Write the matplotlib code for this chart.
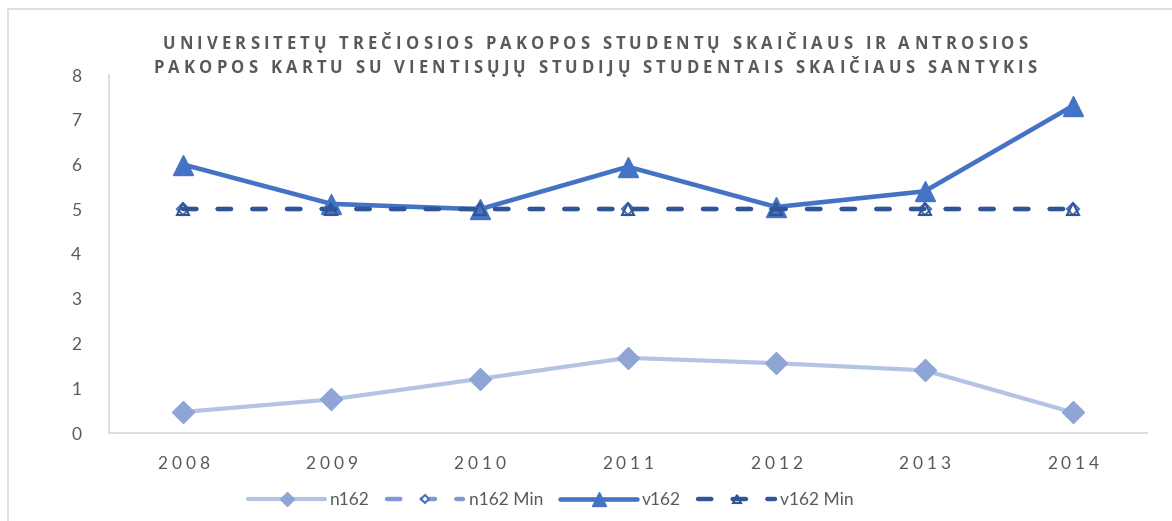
import matplotlib
matplotlib.use("Agg")
import matplotlib.pyplot as plt
import matplotlib.transforms as mtransforms
from matplotlib.font_manager import FontProperties
from matplotlib.lines import Line2D

years = ["2008", "2009", "2010", "2011", "2012", "2013", "2014"]
n162 = [0.47, 0.75, 1.21, 1.68, 1.56, 1.40, 0.46]
n162_min = [5, 5, 5, 5, 5, 5, 5]
v162 = [6.00, 5.12, 5.00, 5.95, 5.05, 5.40, 7.31]
v162_min = [5, 5, 5, 5, 5, 5, 5]

title_lines = ["UNIVERSITETŲ TREČIOSIOS PAKOPOS STUDENTŲ SKAIČIAUS IR ANTROSIOS",
               "PAKOPOS KARTU SU VIENTISŲJŲ STUDIJŲ STUDENTAIS SKAIČIAUS SANTYKIS"]

GRAY = "#595959"
FONT = ["Lato", "DejaVu Sans"]
plt.rcParams["font.family"] = FONT

fig = plt.figure(figsize=(11.72, 5.21), dpi=100)
ax = fig.add_axes([109 / 1172, 1 - 433 / 521, 1038 / 1172, 358 / 521])

x = range(len(years))
ax.plot(x, n162, color="#B4C2E5", lw=3.0, marker="D", ms=11,
        mfc="#8FA5D6", mec="#8FA5D6", label="n162", solid_capstyle="round", zorder=3)
ax.plot(x, n162_min, color="#7F99D4", lw=3.2, ls=(0, (3.0, 4.8)), dash_capstyle="round",
        marker="D", ms=6.5, mfc="white", mec="#4A6FBF", mew=1.5, label="n162 Min", zorder=3)
ax.plot(x, v162, color="#4472C4", lw=3.3, marker="^", ms=15,
        mfc="#4472C4", mec="#4472C4", label="v162", solid_capstyle="round", zorder=4)
ax.plot(x, v162_min, color="#2F5597", lw=3.2, ls=(0, (3.0, 4.8)), dash_capstyle="round",
        marker="^", ms=9, mfc="none", mec="#2F5597", mew=1.5, label="v162 Min", zorder=5)

ax.set_xlim(-0.5, len(years) - 0.5)
ax.set_ylim(0, 8)
ax.set_yticks(range(0, 9))
ax.set_xticks(list(x))
ax.set_xticklabels([])
ax.tick_params(axis="both", length=0, labelsize=12.5, labelcolor=GRAY)
ax.tick_params(axis="y", pad=20)
for side in ("top", "right"):
    ax.spines[side].set_visible(False)
for side in ("left", "bottom"):
    ax.spines[side].set_color("#D9D9D9")
    ax.spines[side].set_linewidth(1.3)

renderer = fig.canvas.get_renderer()


def char_width(ch, prop):
    # advance width of one character in pixels
    w2 = renderer.get_text_width_height_descent("x" + ch + "x", prop, ismath=False)[0]
    w1 = renderer.get_text_width_height_descent("xx", prop, ismath=False)[0]
    return w2 - w1


def spaced_text(xpos, ypos, s, track, transform, prop, color):
    widths = [char_width(c, prop) for c in s]
    total = sum(widths) + track * (len(s) - 1)
    pos = -total / 2
    for c, w in zip(s, widths):
        tr = mtransforms.offset_copy(transform, fig=fig, x=pos, y=0, units="dots")
        fig.text(xpos, ypos, c, transform=tr, ha="left", va="baseline",
                 fontproperties=prop, color=color)
        pos += w + track


title_prop = FontProperties(family=["Open Sans", "DejaVu Sans"], size=12, weight="bold")
spaced_text(595 / 1172, 1 - 49 / 521, title_lines[0], 4.2, fig.transFigure, title_prop, GRAY)
spaced_text(595 / 1172, 1 - 73 / 521, title_lines[1], 4.2, fig.transFigure, title_prop, GRAY)

# category labels below the axis, letter-spaced
tick_prop = FontProperties(family=FONT, size=12.5)
xlab_tr = mtransforms.blended_transform_factory(ax.transData, fig.transFigure)
for i, yr in enumerate(years):
    spaced_text(i, 1 - 469 / 521, yr, 4.0, xlab_tr, tick_prop, GRAY)

leg = fig.legend(loc="center", bbox_to_anchor=(551 / 1172, 1 - 500 / 521), ncol=4,
                 frameon=False, fontsize=12.5, handlelength=4.4, columnspacing=1.0,
                 handletextpad=0.3, markerscale=0.65)
for t in leg.get_texts():
    t.set_color(GRAY)

# chart area border
fig.add_artist(Line2D([8 / 1172, 8 / 1172], [0, 1 - 9 / 521], transform=fig.transFigure,
                      color="#D9D9D9", lw=1.2))
fig.add_artist(Line2D([8 / 1172, 1], [1 - 9 / 521, 1 - 9 / 521], transform=fig.transFigure,
                      color="#D9D9D9", lw=1.2))

fig.savefig("out.png", dpi=100)
